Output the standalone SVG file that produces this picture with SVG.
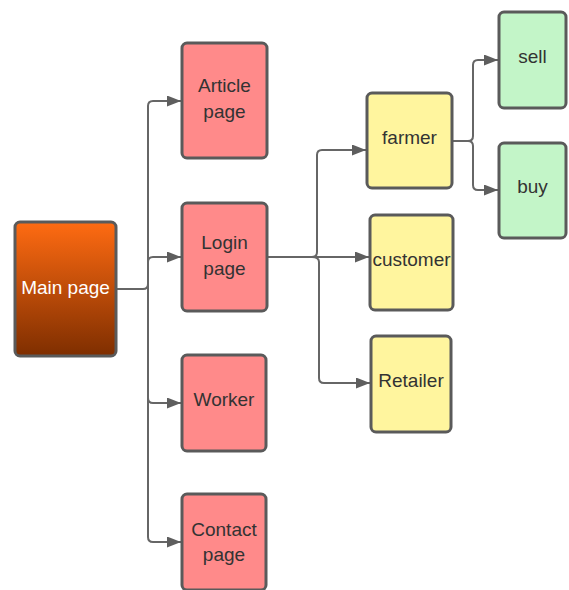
<svg xmlns="http://www.w3.org/2000/svg" width="569" height="590" viewBox="0 0 569 590">
<style>
.box{stroke:#5a5a5a;stroke-width:3}
.red{fill:#ff8a8a}
.yel{fill:#fff59e}
.grn{fill:#c3f5c8}
.t{font-family:"Liberation Sans",Arial,sans-serif;font-size:19px;fill:#333;text-anchor:middle}
.w{fill:#fff}
.c{fill:none;stroke:#666;stroke-width:2;marker-end:url(#a)}
.c2{fill:none;stroke:#666;stroke-width:2}
</style>
<defs>
<linearGradient id="g" x1="0" y1="0" x2="0" y2="1">
<stop offset="0" stop-color="#ff6b12"/>
<stop offset="1" stop-color="#7e2e00"/>
</linearGradient>
<marker id="a" viewBox="0 0 14 11" refX="14" refY="5.5" markerWidth="14" markerHeight="11" markerUnits="userSpaceOnUse" orient="auto">
<path d="M0,0 L14,5.5 L0,11 Z" fill="#5e5e5e"/>
</marker>
</defs>
<g id="connectors">
<path class="c2" d="M116,289 H143 Q148,289 148,284"/>
<path class="c" d="M148,289 V106 Q148,101 153,101 H181"/>
<path class="c" d="M148,289 V262 Q148,257 153,257 H181"/>
<path class="c" d="M148,289 V398 Q148,403 153,403 H181"/>
<path class="c" d="M148,289 V537 Q148,542 153,542 H181"/>
<path class="c" d="M267,257 H312 Q317,257 317,252 V155 Q317,150 322,150 H366"/>
<path class="c" d="M267,257 H369"/>
<path class="c" d="M312,257 Q319,257 319,262 V378 Q319,383 324,383 H370"/>
<path class="c" d="M452,141 H468 Q473,141 473,136 V65 Q473,60 478,60 H498"/>
<path class="c" d="M468,141 Q473,141 473,146 V185 Q473,190 478,190 H498"/>
</g>
<g id="main"><rect class="box" x="15" y="222" width="101" height="134" rx="5" fill="url(#g)"/><text class="t w" x="65.5" y="294">Main page</text></g>
<g id="article"><rect class="box red" x="182" y="43" width="85" height="115" rx="5"/><text class="t" x="224.5" y="92">Article</text><text class="t" x="224.5" y="118">page</text></g>
<g id="login"><rect class="box red" x="182" y="203" width="85" height="108" rx="5"/><text class="t" x="224.5" y="249">Login</text><text class="t" x="224.5" y="275">page</text></g>
<g id="worker"><rect class="box red" x="182" y="355" width="84" height="96" rx="5"/><text class="t" x="224" y="406">Worker</text></g>
<g id="contact"><rect class="box red" x="182" y="494" width="84" height="96" rx="5"/><text class="t" x="224" y="536">Contact</text><text class="t" x="224" y="561">page</text></g>
<g id="farmer"><rect class="box yel" x="367" y="93" width="85" height="95" rx="5"/><text class="t" x="409.5" y="144">farmer</text></g>
<g id="customer"><rect class="box yel" x="370" y="215" width="83" height="95" rx="5"/><text class="t" x="411.5" y="266">customer</text></g>
<g id="retailer"><rect class="box yel" x="371" y="336" width="80" height="96" rx="5"/><text class="t" x="411" y="387">Retailer</text></g>
<g id="sell"><rect class="box grn" x="499" y="12" width="67" height="96" rx="5"/><text class="t" x="532.5" y="63">sell</text></g>
<g id="buy"><rect class="box grn" x="499" y="143" width="67" height="95" rx="5"/><text class="t" x="532.5" y="193">buy</text></g>
</svg>
